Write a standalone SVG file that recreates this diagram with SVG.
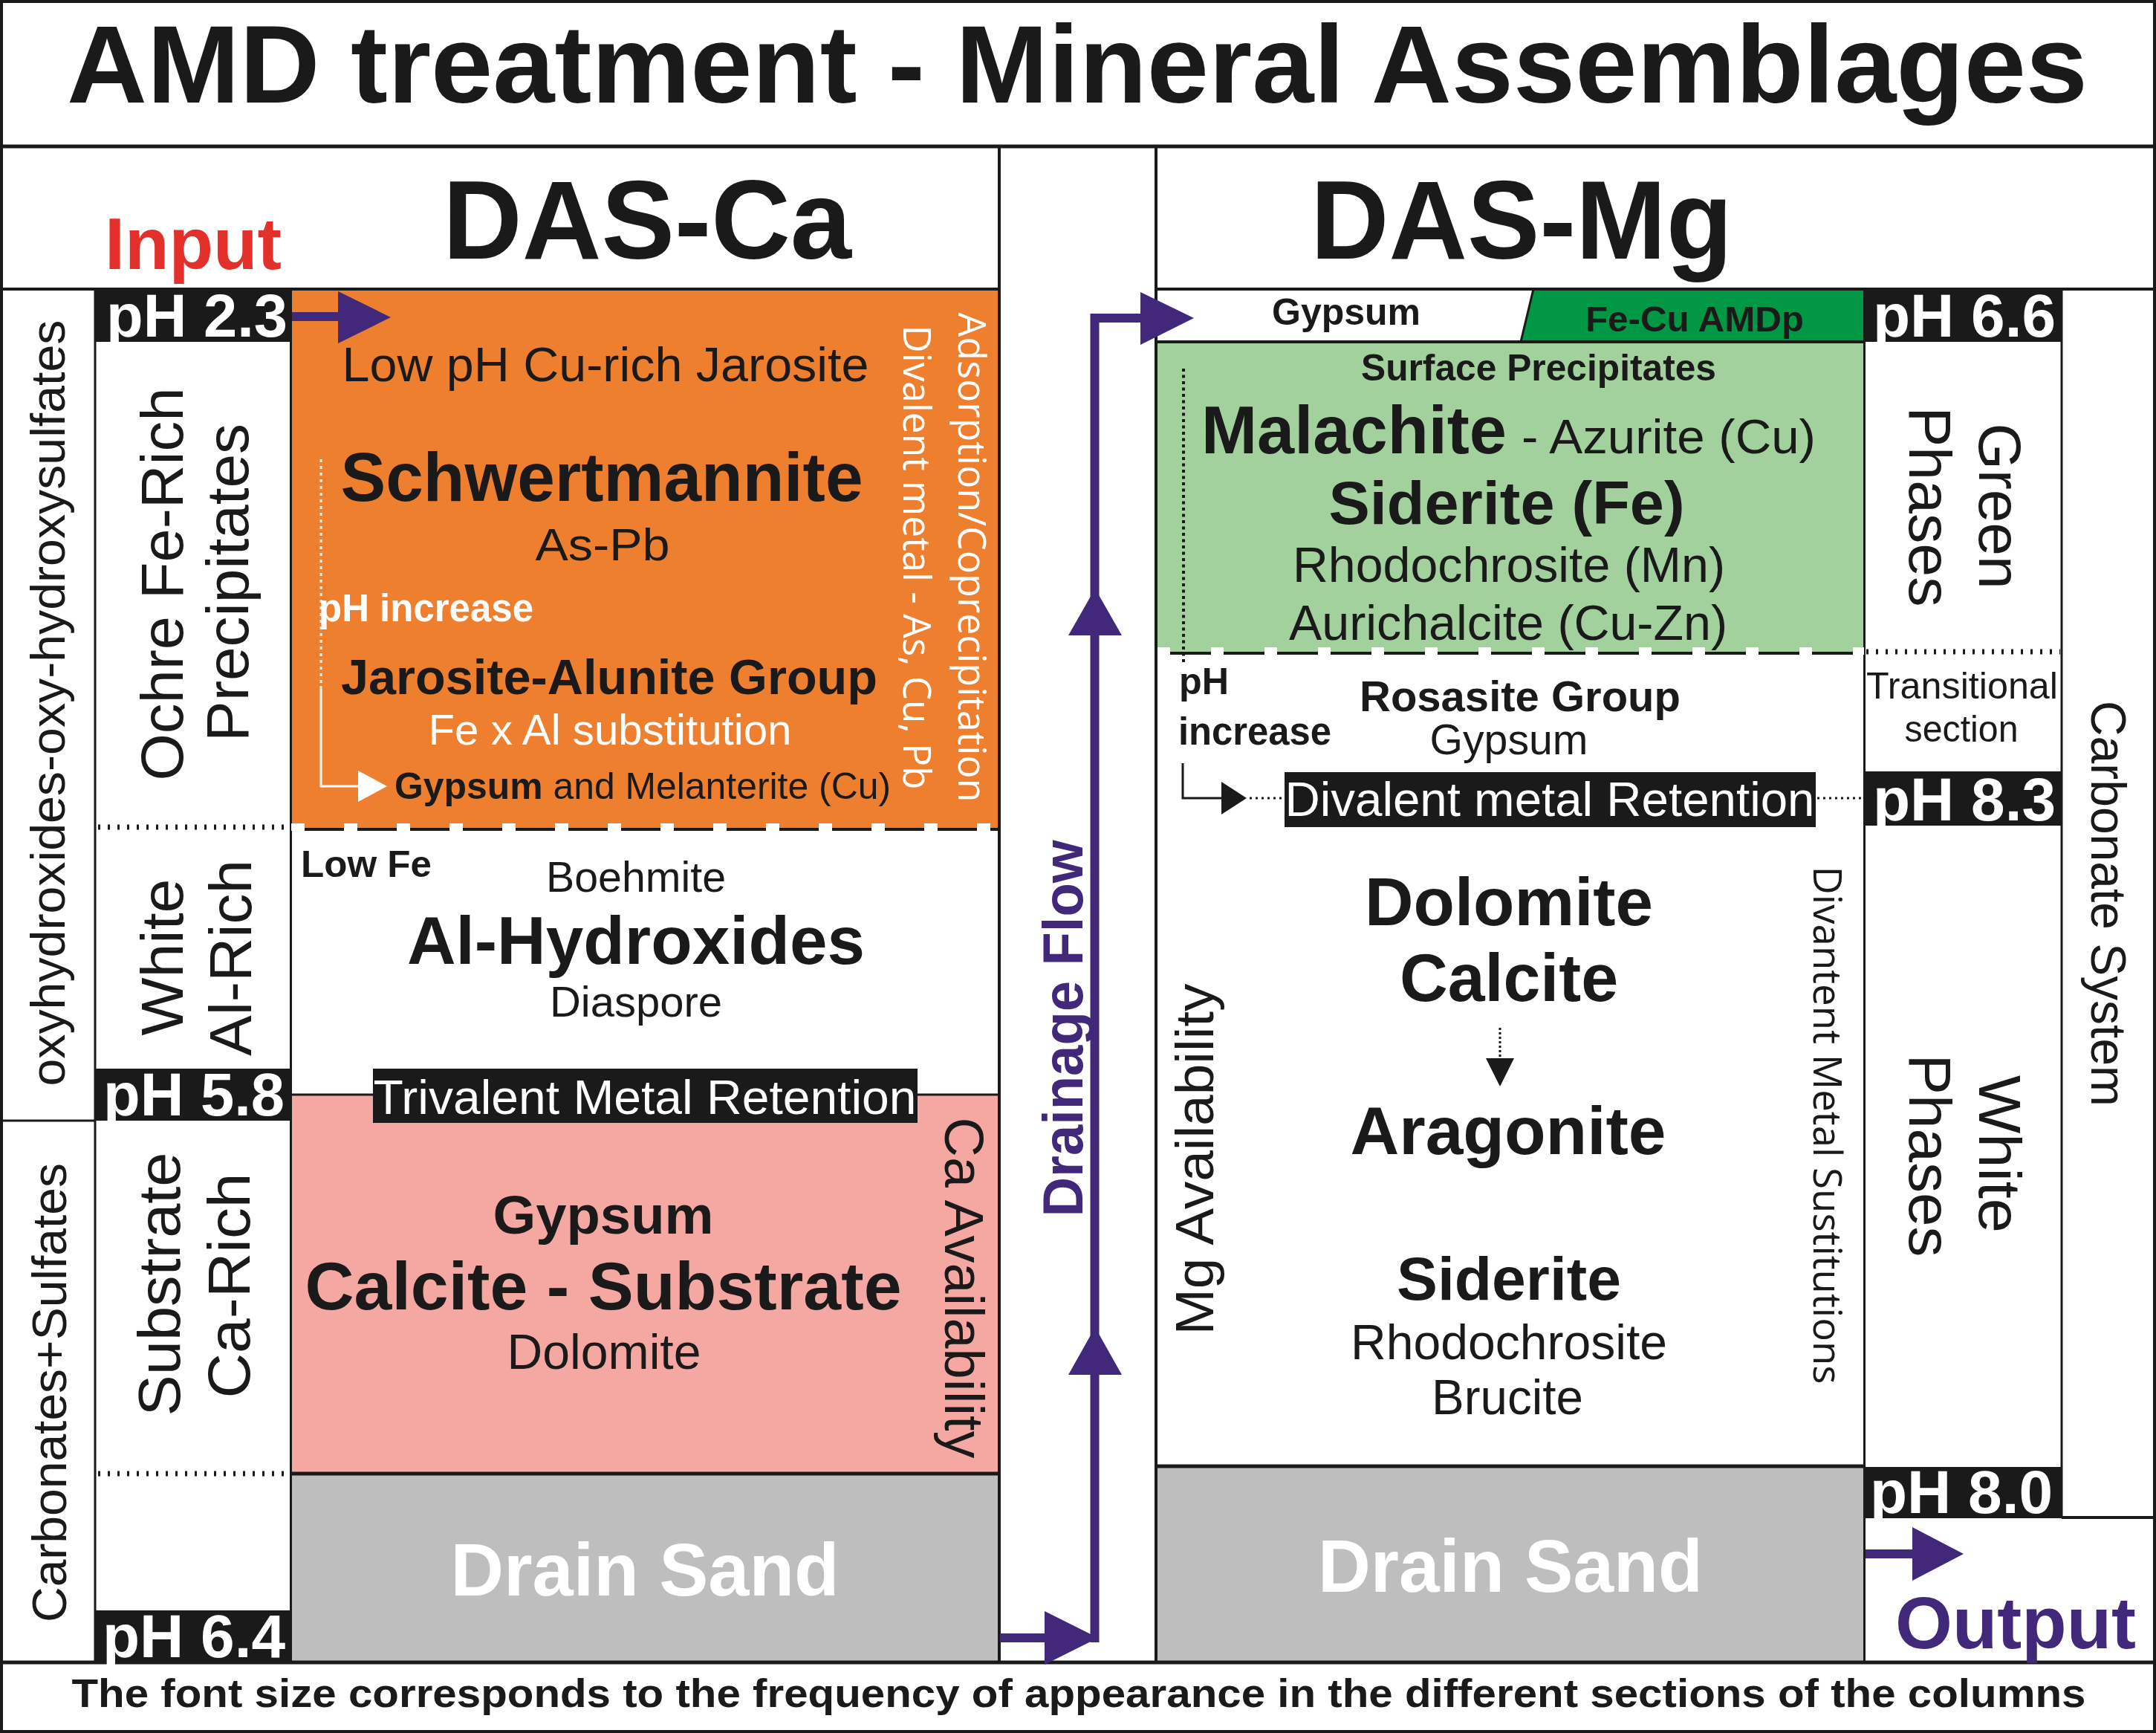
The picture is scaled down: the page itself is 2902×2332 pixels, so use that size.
<svg xmlns="http://www.w3.org/2000/svg" width="2902" height="2332" viewBox="0 0 2902 2332">
<defs>
<style>
.t{font-family:"Liberation Sans",Arial,sans-serif;fill:#1a1a1a}
.b{font-weight:bold}
.w{fill:#ffffff}
.p{fill:#42287a}
.o{font-family:"Open Sans","Liberation Sans",sans-serif}
.ln{stroke:#1a1a1a;fill:none}
.dot{stroke:#1a1a1a;stroke-width:7;stroke-dasharray:3 10;fill:none}
.box{fill:#1a1a1a}
.fl{stroke:#42287a;stroke-width:12;fill:none}
.ah{fill:#42287a}
</style>
</defs>
<rect x="0" y="0" width="2902" height="2332" fill="#ffffff"/>

<!-- fills -->
<g id="fills">
<rect x="392" y="389" width="953" height="726" fill="#ee7f2e"/>
<rect x="392" y="1473" width="953" height="510" fill="#f5a7a2"/>
<rect x="392" y="1983" width="953" height="254" fill="#bebebe"/>
<polygon points="2064,389 2509,389 2509,460 2047,460" fill="#009844"/>
<rect x="1556" y="460" width="953" height="417" fill="#a3d19d"/>
<rect x="1556" y="1973" width="953" height="264" fill="#bebebe"/>
</g>

<!-- frame lines -->
<g id="frame" class="ln">
<rect x="2" y="2" width="2898" height="2328" stroke-width="4"/>
<line x1="0" y1="197" x2="2902" y2="197" stroke-width="5"/>
<line x1="0" y1="389" x2="1345" y2="389" stroke-width="4"/>
<line x1="1556" y1="389" x2="2902" y2="389" stroke-width="4"/>
<line x1="0" y1="2237" x2="2902" y2="2237" stroke-width="5"/>
<line x1="1345" y1="197" x2="1345" y2="2237" stroke-width="4"/>
<line x1="1556" y1="197" x2="1556" y2="2237" stroke-width="4"/>
<line x1="128" y1="389" x2="128" y2="2237" stroke-width="3"/>
<line x1="391.5" y1="389" x2="391.5" y2="2237" stroke-width="3"/>
<line x1="2509.5" y1="389" x2="2509.5" y2="2237" stroke-width="3"/>
<line x1="2775" y1="389" x2="2775" y2="2042" stroke-width="3"/>
<line x1="2775" y1="2042" x2="2902" y2="2042" stroke-width="4"/>
<line x1="0" y1="1508" x2="128" y2="1508" stroke-width="3"/>
<line x1="392" y1="1473" x2="1345" y2="1473" stroke-width="3"/>
<line x1="392" y1="1983" x2="1345" y2="1983" stroke-width="5"/>
<line x1="1556" y1="460" x2="2509" y2="460" stroke-width="4"/>
<line x1="2064" y1="389" x2="2047" y2="460" stroke-width="3"/>
<line x1="1556" y1="1973" x2="2509" y2="1973" stroke-width="5"/>
<line x1="392" y1="1116" x2="1345" y2="1116" stroke-width="4"/>
<line x1="1556" y1="879" x2="2509" y2="879" stroke-width="4"/>
<line x1="392" y1="1113" x2="1345" y2="1113" stroke="#ffffff" stroke-width="10" stroke-dasharray="18 53"/>
<line x1="1558" y1="876" x2="2509" y2="876" stroke="#ffffff" stroke-width="10" stroke-dasharray="17 55"/>
<line class="dot" x1="132" y1="1113" x2="390" y2="1113"/>
<line class="dot" x1="132" y1="1983" x2="390" y2="1983"/>
<line class="dot" x1="2512" y1="877" x2="2773" y2="877"/>
</g>

<!-- black label boxes -->
<g id="ph-boxes">
<rect class="box" x="127" y="389" width="265" height="71"/>
<rect class="box" x="128" y="1438" width="264" height="70"/>
<rect class="box" x="128" y="2167" width="264" height="70"/>
<rect class="box" x="2509" y="389" width="266" height="71"/>
<rect class="box" x="2509" y="1038" width="266" height="73"/>
<rect class="box" x="2509" y="1974" width="266" height="69"/>
<rect class="box" x="502" y="1438" width="733" height="73"/>
<rect class="box" x="1729" y="1039" width="715" height="74"/>
</g>

<g id="title">
<text class="t b" x="1450" y="138" font-size="149" text-anchor="middle" textLength="2720" lengthAdjust="spacingAndGlyphs">AMD treatment - Mineral Assemblages</text>
</g>
<g id="footer">
<text class="t b" x="1452" y="2297" font-size="54" text-anchor="middle" textLength="2711" lengthAdjust="spacingAndGlyphs">The font size corresponds to the frequency of appearance in the different sections of the columns</text>
</g>

<g id="das-ca-header">
<text class="t b" x="871" y="348" font-size="150" text-anchor="middle" textLength="550" lengthAdjust="spacingAndGlyphs">DAS-Ca</text>
<text class="t b" x="260" y="362" font-size="98" text-anchor="middle" textLength="238" lengthAdjust="spacingAndGlyphs" fill="#e3302a" style="fill:#e3302a">Input</text>
</g>
<g id="das-mg-header">
<text class="t b" x="2048" y="348" font-size="150" text-anchor="middle" textLength="568" lengthAdjust="spacingAndGlyphs">DAS-Mg</text>
</g>

<g id="left-system-labels">
<text class="t" transform="translate(87,946) rotate(-90)" font-size="64" text-anchor="middle" textLength="1031" lengthAdjust="spacingAndGlyphs">oxyhydroxides-oxy-hydroxysulfates</text>
<text class="t" transform="translate(89,1874) rotate(-90)" font-size="64" text-anchor="middle" textLength="618" lengthAdjust="spacingAndGlyphs">Carbonates+Sulfates</text>
</g>

<g id="left-section-labels">
<text class="t" transform="translate(246,786) rotate(-90)" font-size="80" text-anchor="middle" textLength="529" lengthAdjust="spacingAndGlyphs">Ochre Fe-Rich</text>
<text class="t" transform="translate(334,784) rotate(-90)" font-size="80" text-anchor="middle" textLength="428" lengthAdjust="spacingAndGlyphs">Precipitates</text>
<text class="t" transform="translate(246,1288) rotate(-90)" font-size="80" text-anchor="middle" textLength="211" lengthAdjust="spacingAndGlyphs">White</text>
<text class="t" transform="translate(338,1289) rotate(-90)" font-size="80" text-anchor="middle" textLength="264" lengthAdjust="spacingAndGlyphs">Al-Rich</text>
<text class="t" transform="translate(242,1728) rotate(-90)" font-size="80" text-anchor="middle" textLength="355" lengthAdjust="spacingAndGlyphs">Substrate</text>
<text class="t" transform="translate(336,1730) rotate(-90)" font-size="80" text-anchor="middle" textLength="303" lengthAdjust="spacingAndGlyphs">Ca-Rich</text>
</g>

<g id="ph-labels">
<text class="t b w" x="265" y="453" font-size="82" text-anchor="middle" textLength="244" lengthAdjust="spacingAndGlyphs">pH 2.3</text>
<text class="t b w" x="261" y="1501" font-size="82" text-anchor="middle" textLength="244" lengthAdjust="spacingAndGlyphs">pH 5.8</text>
<text class="t b w" x="261" y="2230" font-size="82" text-anchor="middle" textLength="246" lengthAdjust="spacingAndGlyphs">pH 6.4</text>
<text class="t b w" x="2644" y="453" font-size="82" text-anchor="middle" textLength="246" lengthAdjust="spacingAndGlyphs">pH 6.6</text>
<text class="t b w" x="2644" y="1104" font-size="82" text-anchor="middle" textLength="246" lengthAdjust="spacingAndGlyphs">pH 8.3</text>
<text class="t b w" x="2640" y="2036" font-size="82" text-anchor="middle" textLength="246" lengthAdjust="spacingAndGlyphs">pH 8.0</text>
</g>

<g id="ochre-section">
<text class="t" x="815" y="513" font-size="64" text-anchor="middle" textLength="709" lengthAdjust="spacingAndGlyphs">Low pH Cu-rich Jarosite</text>
<text class="t b" x="810" y="674" font-size="92" text-anchor="middle" textLength="703" lengthAdjust="spacingAndGlyphs">Schwertmannite</text>
<text class="t" x="811" y="754" font-size="62" text-anchor="middle" textLength="181" lengthAdjust="spacingAndGlyphs">As-Pb</text>
<text class="t b w" x="429" y="836" font-size="51" textLength="289" lengthAdjust="spacingAndGlyphs">pH increase</text>
<text class="t b" x="820" y="934" font-size="66" text-anchor="middle" textLength="722" lengthAdjust="spacingAndGlyphs">Jarosite-Alunite Group</text>
<text class="t w" x="821" y="1002" font-size="57" text-anchor="middle" textLength="489" lengthAdjust="spacingAndGlyphs">Fe x Al substitution</text>
<text class="t" x="531" y="1075" font-size="50" textLength="668" lengthAdjust="spacingAndGlyphs"><tspan font-weight="bold">Gypsum</tspan> and Melanterite (Cu)</text>
<text class="o w" transform="translate(1290,750) rotate(90)" font-size="51" text-anchor="middle" textLength="659" lengthAdjust="spacingAndGlyphs">Adsorption/Coprecipitation</text>
<text class="o w" transform="translate(1216,750) rotate(90)" font-size="51" text-anchor="middle" textLength="625" lengthAdjust="spacingAndGlyphs">Divalent metal - As, Cu, Pb</text>
</g>

<g id="al-section">
<text class="t b" x="405" y="1180" font-size="50" textLength="176" lengthAdjust="spacingAndGlyphs">Low Fe</text>
<text class="t" x="856" y="1200" font-size="57" text-anchor="middle" textLength="242" lengthAdjust="spacingAndGlyphs">Boehmite</text>
<text class="t b" x="856" y="1297" font-size="91" text-anchor="middle" textLength="616" lengthAdjust="spacingAndGlyphs">Al-Hydroxides</text>
<text class="t" x="856" y="1368" font-size="58" text-anchor="middle" textLength="232" lengthAdjust="spacingAndGlyphs">Diaspore</text>
<text class="t w" x="868" y="1499" font-size="64" text-anchor="middle" textLength="731" lengthAdjust="spacingAndGlyphs">Trivalent Metal Retention</text>
</g>

<g id="ca-section">
<text class="t b" x="812" y="1660" font-size="73" text-anchor="middle" textLength="297" lengthAdjust="spacingAndGlyphs">Gypsum</text>
<text class="t b" x="812" y="1762" font-size="91" text-anchor="middle" textLength="803" lengthAdjust="spacingAndGlyphs">Calcite - Substrate</text>
<text class="t" x="813" y="1842" font-size="66" text-anchor="middle" textLength="261" lengthAdjust="spacingAndGlyphs">Dolomite</text>
<text class="t" transform="translate(1272,1733) rotate(90)" font-size="74" text-anchor="middle" textLength="459" lengthAdjust="spacingAndGlyphs">Ca Availability</text>
</g>

<g id="drain-sand-ca">
<text class="t b w" x="868" y="2147" font-size="100" text-anchor="middle" textLength="523" lengthAdjust="spacingAndGlyphs">Drain Sand</text>
</g>

<g id="drainage-flow">
<text class="t b p" transform="translate(1457,1384) rotate(-90)" font-size="76" text-anchor="middle" textLength="507" lengthAdjust="spacingAndGlyphs">Drainage Flow</text>
</g>

<g id="mg-top-band">
<text class="t b" x="1812" y="437" font-size="50" text-anchor="middle" textLength="200" lengthAdjust="spacingAndGlyphs">Gypsum</text>
<text class="t b" x="2281" y="446" font-size="49" text-anchor="middle" textLength="294" lengthAdjust="spacingAndGlyphs">Fe-Cu AMDp</text>
</g>

<g id="green-section">
<text class="t b" x="2071" y="512" font-size="50" text-anchor="middle" textLength="478" lengthAdjust="spacingAndGlyphs">Surface Precipitates</text>
<text class="t b" x="1617" y="610" font-size="90" textLength="411" lengthAdjust="spacingAndGlyphs">Malachite</text>
<text class="t" x="2048" y="610" font-size="64" textLength="396" lengthAdjust="spacingAndGlyphs">- Azurite (Cu)</text>
<text class="t b" x="2028" y="705" font-size="82" text-anchor="middle" textLength="479" lengthAdjust="spacingAndGlyphs">Siderite (Fe)</text>
<text class="t" x="2031" y="783" font-size="66" text-anchor="middle" textLength="582" lengthAdjust="spacingAndGlyphs">Rhodochrosite (Mn)</text>
<text class="t" x="2030" y="861" font-size="66" text-anchor="middle" textLength="590" lengthAdjust="spacingAndGlyphs">Aurichalcite (Cu-Zn)</text>
</g>

<g id="white-section">
<text class="t b" x="1587" y="934" font-size="50" textLength="67" lengthAdjust="spacingAndGlyphs">pH</text>
<text class="t b" x="1586" y="1002" font-size="51" textLength="206" lengthAdjust="spacingAndGlyphs">increase</text>
<text class="t b" x="2046" y="957" font-size="58" text-anchor="middle" textLength="432" lengthAdjust="spacingAndGlyphs">Rosasite Group</text>
<text class="t" x="2031" y="1015" font-size="57" text-anchor="middle" textLength="213" lengthAdjust="spacingAndGlyphs">Gypsum</text>
<text class="t w" x="2086" y="1098" font-size="64" text-anchor="middle" textLength="713" lengthAdjust="spacingAndGlyphs">Divalent metal Retention</text>
<text class="t b" x="2031" y="1245" font-size="91" text-anchor="middle" textLength="388" lengthAdjust="spacingAndGlyphs">Dolomite</text>
<text class="t b" x="2031" y="1347" font-size="90" text-anchor="middle" textLength="294" lengthAdjust="spacingAndGlyphs">Calcite</text>
<text class="t b" x="2030" y="1553" font-size="91" text-anchor="middle" textLength="425" lengthAdjust="spacingAndGlyphs">Aragonite</text>
<text class="t b" x="2031" y="1749" font-size="82" text-anchor="middle" textLength="302" lengthAdjust="spacingAndGlyphs">Siderite</text>
<text class="t" x="2031" y="1829" font-size="66" text-anchor="middle" textLength="426" lengthAdjust="spacingAndGlyphs">Rhodochrosite</text>
<text class="t" x="2029" y="1903" font-size="66" text-anchor="middle" textLength="204" lengthAdjust="spacingAndGlyphs">Brucite</text>
<text class="t" transform="translate(1633,1560) rotate(-90)" font-size="72" text-anchor="middle" textLength="473" lengthAdjust="spacingAndGlyphs">Mg Availability</text>
<text class="o" transform="translate(2441,1514) rotate(90)" font-size="53" text-anchor="middle" textLength="697" lengthAdjust="spacingAndGlyphs" fill="#1a1a1a">Divantent Metal Sustitutions</text>
</g>

<g id="drain-sand-mg">
<text class="t b w" x="2033" y="2142" font-size="100" text-anchor="middle" textLength="518" lengthAdjust="spacingAndGlyphs">Drain Sand</text>
</g>

<g id="phase-labels">
<text class="t" transform="translate(2664,681) rotate(90)" font-size="80" text-anchor="middle" textLength="223" lengthAdjust="spacingAndGlyphs">Green</text>
<text class="t" transform="translate(2570,682) rotate(90)" font-size="80" text-anchor="middle" textLength="269" lengthAdjust="spacingAndGlyphs">Phases</text>
<text class="t" x="2641" y="940" font-size="50" text-anchor="middle" textLength="258" lengthAdjust="spacingAndGlyphs">Transitional</text>
<text class="t" x="2640" y="998" font-size="50" text-anchor="middle" textLength="153" lengthAdjust="spacingAndGlyphs">section</text>
<text class="t" transform="translate(2664,1553) rotate(90)" font-size="80" text-anchor="middle" textLength="212" lengthAdjust="spacingAndGlyphs">White</text>
<text class="t" transform="translate(2570,1555) rotate(90)" font-size="80" text-anchor="middle" textLength="273" lengthAdjust="spacingAndGlyphs">Phases</text>
<text class="t" transform="translate(2815,1216) rotate(90)" font-size="66" text-anchor="middle" textLength="546" lengthAdjust="spacingAndGlyphs">Carbonate System</text>
</g>

<g id="output">
<text class="t b p" x="2713" y="2218" font-size="99" text-anchor="middle" textLength="324" lengthAdjust="spacingAndGlyphs">Output</text>
</g>

<g id="connectors">
<line class="fl" x1="393" y1="426" x2="458" y2="426"/>
<polygon class="ah" points="455,392 526,427 455,462"/>
<path class="fl" d="M1346,2204 H1410"/>
<polygon class="ah" points="1406,2168 1478,2204 1406,2240"/>
<path class="fl" d="M1473.5,2210 V428 H1540"/>
<polygon class="ah" points="1535,393 1607,428 1535,464"/>
<polygon class="ah" points="1474,792 1510,855 1438,855"/>
<polygon class="ah" points="1474,1786 1510,1850 1438,1850"/>
<line class="fl" x1="2511" y1="2091" x2="2578" y2="2091"/>
<polygon class="ah" points="2574,2055 2643,2091 2574,2127"/>
<line x1="432" y1="618" x2="432" y2="923" stroke="#ffffff" stroke-width="3" stroke-dasharray="4 5"/>
<path d="M432,923 V1058 H486" stroke="#ffffff" stroke-width="3" fill="none"/>
<polygon points="482,1037 521,1058 482,1079" fill="#ffffff"/>
<line x1="1593" y1="496" x2="1593" y2="895" stroke="#1a1a1a" stroke-width="4" stroke-dasharray="4 4.5"/>
<path d="M1592,1027 V1074 H1648" stroke="#1a1a1a" stroke-width="3" fill="none"/>
<polygon points="1644,1052 1678,1074 1644,1096" fill="#1a1a1a"/>
<line x1="1682" y1="1074" x2="1729" y2="1074" stroke="#1a1a1a" stroke-width="3" stroke-dasharray="3 5"/>
<line x1="2446" y1="1074" x2="2509" y2="1074" stroke="#1a1a1a" stroke-width="3" stroke-dasharray="3 5"/>
<line x1="2019" y1="1383" x2="2019" y2="1426" stroke="#1a1a1a" stroke-width="3" stroke-dasharray="3 3"/>
<polygon points="2000,1424 2038,1424 2019,1462" fill="#1a1a1a"/>
</g>
</svg>
